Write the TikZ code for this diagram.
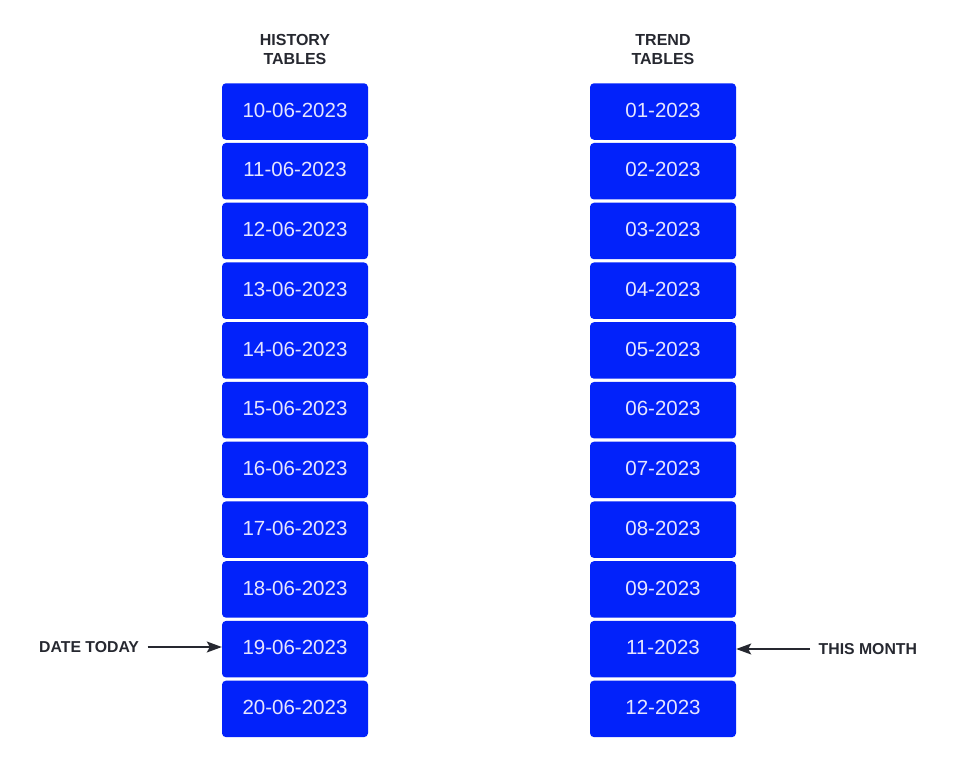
\documentclass[tikz,border=0pt]{standalone}
\usepackage{fontspec}
\setmainfont{Liberation Sans}
\usetikzlibrary{arrows.meta}
\definecolor{tblblue}{HTML}{0222FA}
\definecolor{lbldark}{HTML}{262830}
\tikzset{
  tbl/.style={fill=tblblue, rounded corners=4pt, minimum width=146pt, minimum height=56.5pt,
    inner sep=0pt, text=white!90!blue, font=\fontsize{20.5}{23}\selectfont},
  head/.style={align=center, text=lbldark, font=\bfseries\fontsize{16}{19.5}\selectfont},
  lbl/.style={text=lbldark, inner ysep=3pt, inner xsep=8.5pt, font=\bfseries\fontsize{15.8}{18}\selectfont},
  pointer/.style={draw=lbldark, line width=1.4pt, -{Stealth[length=15pt,width=11pt,inset=3pt]}}
}

\begin{document}
\begin{tikzpicture}[x=1pt, y=-1pt]
      \useasboundingbox (0, 0) rectangle (959, 769);

      \node [head] (histhead) at (295, 49.5) {HISTORY\\TABLES};
      \node [head] (trendhead) at (663, 49.5) {TREND\\TABLES};

      % history tables, one per day
      \foreach \d [count=\i] in {10,11,12,13,14,15,16,17,18,19,20}
        \node [tbl] (h\i) at (295, {111.5 + (\i-1)*59.74}) {\raisebox{3pt}{\d-06-2023}};

      % trend tables, one per month
      \foreach \m [count=\i] in {01,02,03,04,05,06,07,08,09,11,12}
        \node [tbl] (t\i) at (663, {111.5 + (\i-1)*59.74}) {\raisebox{3pt}{\m-2023}};

      \node [lbl, anchor=east] (today) at (147.7, 647) {DATE TODAY};
      \draw [pointer] (today.east) -- (today.east -| h10.west);

      \node [lbl, anchor=west] (month) at (810, 649) {THIS MONTH};
      \draw [pointer] (month.west) -- (month.west -| t10.east);
    \end{tikzpicture}
\end{document}
